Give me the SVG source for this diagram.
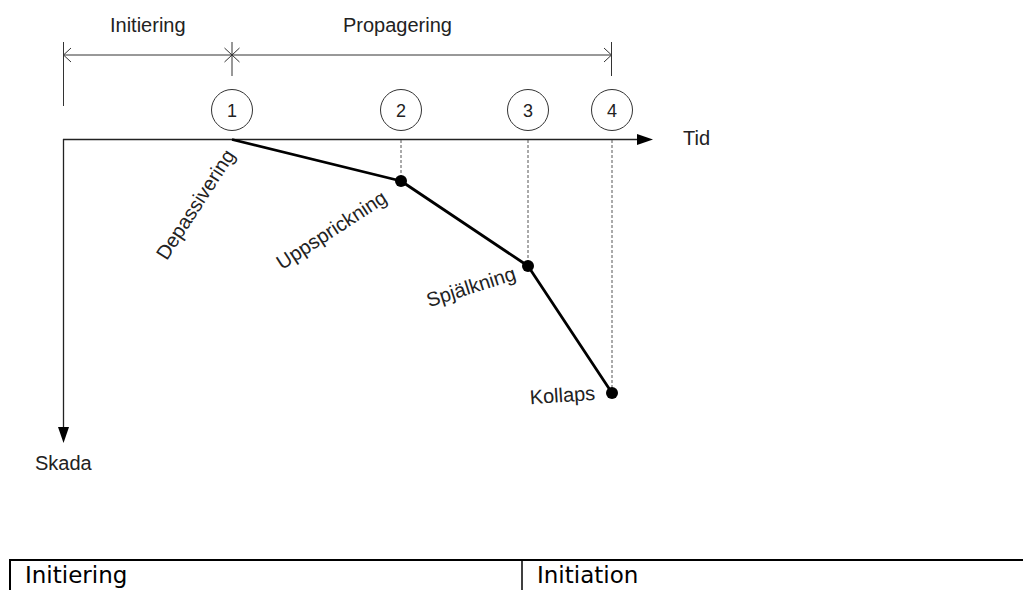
<svg xmlns="http://www.w3.org/2000/svg" width="1023" height="590" viewBox="0 0 1023 590">
<style>
  .lbl { font-family: "Liberation Sans", Arial, sans-serif; font-size: 20px; fill: #222; }
  .num { font-family: "Liberation Sans", Arial, sans-serif; font-size: 18px; fill: #222; text-anchor: middle; }
  .rot { text-anchor: middle; }
  .thin { stroke: #333; stroke-width: 1; fill: none; }
  .axis { stroke: #222; stroke-width: 1.3; fill: none; }
  .dash { stroke: #555; stroke-width: 1; stroke-dasharray: 3 2; fill: none; }
  .curve { stroke: #000; stroke-width: 2.8; fill: none; stroke-linejoin: round; }
  .circ { stroke: #333; stroke-width: 1; fill: #fff; }
  .tbl { font-family: "DejaVu Sans", Verdana, sans-serif; font-size: 23px; fill: #000; }
</style>
<defs>
  <marker id="arrow" viewBox="0 0 16 11" refX="0" refY="5.5" markerWidth="16" markerHeight="11" markerUnits="userSpaceOnUse" orient="auto">
    <path d="M0,0 L16,5.5 L0,11 Z" fill="#000"/>
  </marker>
</defs>

<g id="dimension">
  <line class="thin" x1="63" y1="55" x2="611" y2="55"/>
  <line class="thin" x1="63.5" y1="42" x2="63.5" y2="106"/>
  <line class="thin" x1="232" y1="42" x2="232" y2="76"/>
  <line class="thin" x1="611.5" y1="42" x2="611.5" y2="76"/>
  <path class="thin" d="M71,48 L63.5,55 L71,62"/>
  <path class="thin" d="M224.5,48 L232,55 L224.5,62 M239.5,48 L232,55 L239.5,62"/>
  <path class="thin" d="M604,48 L611.5,55 L604,62"/>
  <text class="lbl" x="110" y="32">Initiering</text>
  <text class="lbl" x="343" y="32">Propagering</text>
</g>

<g id="connectors">
  <line class="axis" x1="63" y1="139.5" x2="637" y2="139.5" marker-end="url(#arrow)"/>
  <line class="axis" x1="63.5" y1="139" x2="63.5" y2="427" marker-end="url(#arrow)"/>
  <line class="dash" x1="401" y1="140" x2="401" y2="181"/>
  <line class="dash" x1="528" y1="140" x2="528" y2="266"/>
  <line class="dash" x1="612" y1="140" x2="612" y2="393"/>
  <polyline class="curve" points="232,139.5 401,181 528,266 612,393"/>
</g>

<g id="axis-labels">
  <text class="lbl" x="683" y="145">Tid</text>
  <text class="lbl" x="35" y="470">Skada</text>
</g>

<g id="node-1">
  <circle class="circ" cx="232" cy="110" r="20.5"/>
  <text class="num" x="232" y="116.5">1</text>
</g>
<g id="node-2">
  <circle class="circ" cx="401" cy="110" r="20.5"/>
  <text class="num" x="401" y="116.5">2</text>
  <circle cx="401" cy="181" r="6" fill="#000"/>
</g>
<g id="node-3">
  <circle class="circ" cx="528" cy="110" r="20.5"/>
  <text class="num" x="528" y="116.5">3</text>
  <circle cx="528" cy="266" r="6" fill="#000"/>
</g>
<g id="node-4">
  <circle class="circ" cx="612" cy="110" r="20.5"/>
  <text class="num" x="612" y="116.5">4</text>
  <circle cx="612" cy="393" r="6" fill="#000"/>
</g>

<g id="stage-labels">
  <text class="lbl rot" transform="translate(197,205.5) rotate(-57)" dy="0.25em">Depassivering</text>
  <text class="lbl rot" transform="translate(332.5,231.5) rotate(-33)" dy="0.25em">Uppsprickning</text>
  <text class="lbl rot" transform="translate(471.5,288.5) rotate(-17.5)" dy="0.25em">Spjälkning</text>
  <text class="lbl rot" transform="translate(562.5,397) rotate(-4)" dy="0.25em">Kollaps</text>
</g>

<g id="table">
  <line x1="9" y1="560" x2="1023" y2="560" stroke="#000" stroke-width="2"/>
  <line x1="10" y1="559" x2="10" y2="590" stroke="#000" stroke-width="2"/>
  <line x1="522" y1="560" x2="522" y2="590" stroke="#000" stroke-width="1.5"/>
  <text class="tbl" x="25" y="583">Initiering</text>
  <text class="tbl" x="537" y="583">Initiation</text>
</g>
</svg>
